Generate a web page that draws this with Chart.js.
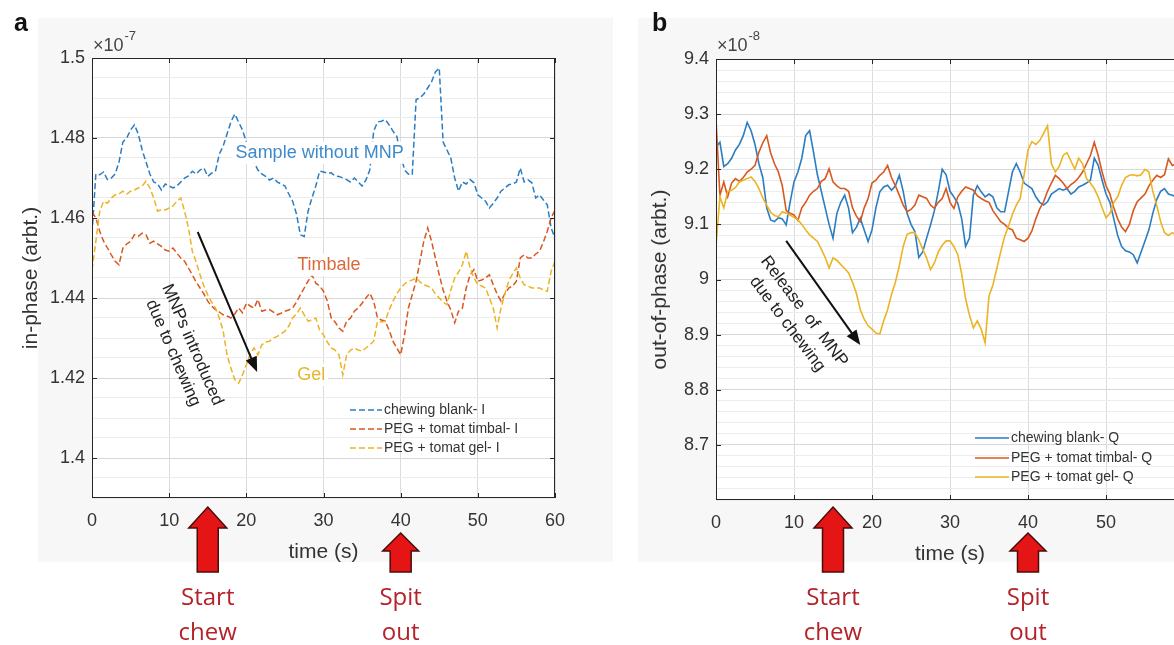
<!DOCTYPE html>
<html>
<head>
<meta charset="utf-8">
<script src="https://cdn.jsdelivr.net/npm/chart.js@4.4.1/dist/chart.umd.min.js"></script>
<style>
  html, body { margin: 0; padding: 0; background: #fff; overflow: hidden; }
  body { width: 1174px; height: 645px; position: relative; }
  .panel { position: absolute; top: 0; width: 620px; height: 645px; }
  #wrapA { left: 0; }
  #wrapB { left: 620px; }
</style>
</head>
<body>
<div class="panel" id="wrapA"><canvas id="chartA" width="620" height="645"></canvas></div>
<div class="panel" id="wrapB"><canvas id="chartB" width="620" height="645"></canvas></div>
<script>
const FONT = '"Liberation Sans", Arial, Helvetica, sans-serif';

// time axis, 0.5 s sampling
const timeS = Array.from({ length: 121 }, (_, i) => i * 0.5);
const xTicks = [0, 10, 20, 30, 40, 50, 60];
const yTicksA = [1.4, 1.42, 1.44, 1.46, 1.48, 1.5];
const yLabelsA = ['1.4', '1.42', '1.44', '1.46', '1.48', '1.5'];
const yTicksB = [8.7, 8.8, 8.9, 9, 9.1, 9.2, 9.3, 9.4];
const yLabelsB = ['8.7', '8.8', '8.9', '9', '9.1', '9.2', '9.3', '9.4'];
const seriesNamesA = ['chewing blank- I', 'PEG + tomat timbal- I', 'PEG + tomat gel- I'];
const seriesNamesB = ['chewing blank- Q', 'PEG + tomat timbal- Q', 'PEG + tomat gel- Q'];

// panel a: in-phase (x 1e-7)
const inphaseBlank = [
  1.456, 1.471, 1.4708, 1.4715, 1.4696, 1.470, 1.471, 1.474, 1.479, 1.480,
  1.482, 1.4833, 1.481, 1.477, 1.474, 1.471, 1.469, 1.4685, 1.467, 1.4685,
  1.468, 1.4675, 1.468, 1.469, 1.470, 1.4705, 1.4717, 1.471, 1.472, 1.4725,
  1.4704, 1.4712, 1.4717, 1.476, 1.478, 1.481, 1.484, 1.486, 1.484, 1.482,
  1.479, 1.476, 1.474, 1.472, 1.471, 1.4704, 1.4695, 1.470, 1.469, 1.4685,
  1.468, 1.466, 1.4642, 1.461, 1.4558, 1.4554, 1.4617, 1.465, 1.468, 1.4717,
  1.4715, 1.4712, 1.4713, 1.4705, 1.4704, 1.470, 1.4696, 1.469, 1.470, 1.469,
  1.468, 1.4695, 1.472, 1.4817, 1.484, 1.4842, 1.4846, 1.4833, 1.4817, 1.4804,
  1.476, 1.472, 1.471, 1.4708, 1.4896, 1.490, 1.491, 1.4925, 1.494, 1.4965,
  1.4975, 1.479, 1.477, 1.475, 1.470, 1.4667, 1.469, 1.4685, 1.4696, 1.4688,
  1.4658, 1.465, 1.4642, 1.4625, 1.4637, 1.465, 1.4667, 1.4675, 1.4683, 1.4685,
  1.469, 1.4725, 1.469, 1.4695, 1.4688, 1.465, 1.4658, 1.4645, 1.4633, 1.4575,
  1.455
];
const inphaseTimbale = [
  1.4615, 1.460, 1.4567, 1.4542, 1.4525, 1.4508, 1.4492, 1.4483, 1.4525, 1.4535,
  1.4542, 1.4558, 1.4554, 1.4562, 1.4558, 1.4537, 1.4542, 1.4535, 1.4529, 1.452,
  1.4517, 1.4525, 1.4512, 1.450, 1.4492, 1.4475, 1.4458, 1.444, 1.4425, 1.441,
  1.4392, 1.438, 1.4371, 1.4365, 1.4358, 1.4355, 1.435, 1.436, 1.4375, 1.4363,
  1.4387, 1.438, 1.4375, 1.4396, 1.4367, 1.437, 1.4371, 1.4365, 1.4358, 1.4362,
  1.4367, 1.437, 1.4375, 1.439, 1.4408, 1.4425, 1.4442, 1.4458, 1.4437, 1.443,
  1.4417, 1.4392, 1.435, 1.434, 1.4325, 1.4317, 1.4342, 1.435, 1.4367, 1.4375,
  1.4387, 1.440, 1.4412, 1.4392, 1.435, 1.4345, 1.4342, 1.432, 1.4292, 1.4275,
  1.4258, 1.4308, 1.4375, 1.4408, 1.4442, 1.4492, 1.4542, 1.4575, 1.4542, 1.450,
  1.4458, 1.442, 1.4392, 1.437, 1.4338, 1.4367, 1.4375, 1.4425, 1.4458, 1.4471,
  1.4442, 1.4445, 1.445, 1.4458, 1.4433, 1.441, 1.4392, 1.441, 1.4425, 1.443,
  1.4442, 1.450, 1.4508, 1.450, 1.450, 1.451, 1.4517, 1.454, 1.4567, 1.460,
  1.462
];
const inphaseGel = [
  1.447, 1.4542, 1.4617, 1.4642, 1.4637, 1.465, 1.4658, 1.466, 1.4667, 1.466,
  1.4667, 1.467, 1.4675, 1.468, 1.4692, 1.4675, 1.465, 1.4617, 1.4621, 1.462,
  1.4625, 1.463, 1.4642, 1.465, 1.4617, 1.4575, 1.4517, 1.449, 1.4458, 1.443,
  1.4408, 1.439, 1.4375, 1.435, 1.4317, 1.4258, 1.4225, 1.4196, 1.4187, 1.4208,
  1.4233, 1.426, 1.4275, 1.4258, 1.4283, 1.429, 1.4292, 1.430, 1.4304, 1.431,
  1.4317, 1.433, 1.435, 1.436, 1.4375, 1.4358, 1.4342, 1.4345, 1.435, 1.432,
  1.4308, 1.429, 1.4275, 1.427, 1.4258, 1.4208, 1.4258, 1.427, 1.4275, 1.427,
  1.4267, 1.4275, 1.4283, 1.4292, 1.4342, 1.434, 1.4342, 1.437, 1.4392, 1.441,
  1.4425, 1.4435, 1.4442, 1.4445, 1.445, 1.444, 1.4433, 1.443, 1.4425, 1.441,
  1.440, 1.439, 1.4383, 1.442, 1.445, 1.4465, 1.4483, 1.4517, 1.4475, 1.445,
  1.4433, 1.443, 1.4425, 1.440, 1.4375, 1.4325, 1.4375, 1.441, 1.4442, 1.446,
  1.4475, 1.445, 1.4433, 1.443, 1.4425, 1.4425, 1.4425, 1.442, 1.4417, 1.4467,
  1.4492
];

// panel b: out-of-phase (x 1e-8)
const quadBlank = [
  9.24, 9.249, 9.205, 9.21, 9.22, 9.235, 9.245, 9.261, 9.285, 9.27,
  9.245, 9.21, 9.185, 9.13, 9.108, 9.105, 9.112, 9.11, 9.099, 9.14,
  9.177, 9.195, 9.22, 9.261, 9.27, 9.231, 9.19, 9.16, 9.13, 9.1,
  9.075, 9.12, 9.14, 9.153, 9.129, 9.085, 9.095, 9.111, 9.09, 9.069,
  9.09, 9.13, 9.159, 9.168, 9.171, 9.162, 9.17, 9.189, 9.16, 9.12,
  9.1, 9.087, 9.04, 9.05, 9.075, 9.099, 9.125, 9.16, 9.2, 9.19,
  9.16, 9.15, 9.138, 9.11, 9.06, 9.075, 9.153, 9.17, 9.159, 9.15,
  9.155, 9.15, 9.13, 9.123, 9.123, 9.159, 9.195, 9.21, 9.195, 9.175,
  9.17, 9.165, 9.15, 9.14, 9.135, 9.141, 9.155, 9.16, 9.165, 9.162,
  9.165, 9.155, 9.16, 9.168, 9.171, 9.175, 9.18, 9.22, 9.207, 9.18,
  9.155, 9.14, 9.11, 9.08, 9.06, 9.052, 9.05, 9.045, 9.03, 9.05,
  9.07, 9.09, 9.12, 9.145, 9.16, 9.165, 9.155, 9.153, 9.15, 9.155,
  9.15
];
const quadTimbale = [
  9.29, 9.153, 9.177, 9.15, 9.175, 9.183, 9.178, 9.185, 9.195, 9.2,
  9.207, 9.231, 9.248, 9.261, 9.23, 9.21, 9.195, 9.17, 9.125, 9.12,
  9.117, 9.107, 9.13, 9.14, 9.153, 9.16, 9.165, 9.178, 9.183, 9.201,
  9.177, 9.17, 9.165, 9.165, 9.16, 9.13, 9.115, 9.105, 9.13, 9.147,
  9.175, 9.18, 9.189, 9.195, 9.207, 9.185, 9.17, 9.153, 9.135, 9.123,
  9.127, 9.135, 9.153, 9.15, 9.147, 9.135, 9.129, 9.14, 9.147, 9.165,
  9.14, 9.129, 9.15, 9.16, 9.168, 9.165, 9.162, 9.152, 9.147, 9.143,
  9.14, 9.125, 9.115, 9.105, 9.1, 9.093, 9.09, 9.075, 9.072, 9.069,
  9.075, 9.088, 9.11, 9.128, 9.141, 9.16, 9.175, 9.189, 9.183, 9.175,
  9.165, 9.172, 9.177, 9.185, 9.195, 9.21, 9.225, 9.249, 9.225, 9.195,
  9.17, 9.155, 9.13, 9.11, 9.095, 9.087, 9.1, 9.125, 9.141, 9.148,
  9.155, 9.17, 9.18, 9.189, 9.185, 9.19, 9.219, 9.207, 9.21, 9.215,
  9.22
];
const quadGel = [
  9.06, 9.15, 9.13, 9.16, 9.162, 9.167, 9.177, 9.18, 9.183, 9.186,
  9.178, 9.165, 9.148, 9.135, 9.122, 9.116, 9.114, 9.123, 9.12, 9.117,
  9.113, 9.108, 9.1, 9.09, 9.081, 9.075, 9.069, 9.055, 9.04, 9.021,
  9.039, 9.035, 9.027, 9.02, 9.012, 8.995, 8.975, 8.945, 8.928, 8.916,
  8.91, 8.903, 8.901, 8.925, 8.945, 8.973, 8.995, 9.025, 9.06, 9.082,
  9.085, 9.085, 9.072, 9.055, 9.039, 9.018, 9.03, 9.05, 9.062, 9.07,
  9.07, 9.06, 9.045, 9.01, 8.965, 8.935, 8.912, 8.925, 8.91, 8.885,
  8.97, 8.99, 9.02, 9.05, 9.078, 9.097, 9.118, 9.135, 9.147, 9.19,
  9.235, 9.25, 9.245, 9.252, 9.265, 9.279, 9.21, 9.195, 9.205, 9.225,
  9.23, 9.215, 9.2, 9.22, 9.21, 9.183, 9.175, 9.165, 9.15, 9.13,
  9.112, 9.12, 9.14, 9.15, 9.171, 9.185, 9.189, 9.19, 9.188, 9.19,
  9.2, 9.195, 9.16, 9.135, 9.105, 9.085, 9.08, 9.085, 9.08, 9.075,
  9.08
];

const BLUE = '#2a7dc2', ORANGE = '#d9581f', YELLOW = '#ecb424';

function minorTicks(lo, hi, step) {
  const out = [];
  const n = Math.round((hi - lo) / step);
  for (let i = 0; i <= n; i++) out.push(+(lo + i * step).toFixed(4));
  return out;
}
const yMinorA = minorTicks(1.39, 1.5, 0.005);
const yMinorB = minorTicks(8.6, 9.4, 0.02);

function majorIndex(v, list) {
  return list.findIndex(m => Math.abs(m - v) < 1e-7);
}
function pts(arr) {
  return arr.map((v, i) => ({ x: timeS[i], y: v }));
}

// ---- drawing helpers for the annotations ----
function blockArrow(ctx, cx, tip, base, bottom, hw, sw) {
  ctx.save();
  ctx.beginPath();
  ctx.moveTo(cx, tip);
  ctx.lineTo(cx + hw, base);
  ctx.lineTo(cx + sw, base);
  ctx.lineTo(cx + sw, bottom);
  ctx.lineTo(cx - sw, bottom);
  ctx.lineTo(cx - sw, base);
  ctx.lineTo(cx - hw, base);
  ctx.closePath();
  ctx.fillStyle = '#e51515';
  ctx.fill();
  ctx.strokeStyle = '#4a0d0d';
  ctx.lineWidth = 1.5;
  ctx.stroke();
  ctx.restore();
}
function lineArrow(ctx, x1, y1, x2, y2) {
  const a = Math.atan2(y2 - y1, x2 - x1);
  ctx.save();
  ctx.strokeStyle = '#111';
  ctx.fillStyle = '#111';
  ctx.lineWidth = 2;
  ctx.beginPath();
  ctx.moveTo(x1, y1);
  ctx.lineTo(x2 - 10 * Math.cos(a), y2 - 10 * Math.sin(a));
  ctx.stroke();
  ctx.beginPath();
  ctx.moveTo(x2, y2);
  ctx.lineTo(x2 - 15 * Math.cos(a) + 6 * Math.sin(a), y2 - 15 * Math.sin(a) - 6 * Math.cos(a));
  ctx.lineTo(x2 - 15 * Math.cos(a) - 6 * Math.sin(a), y2 - 15 * Math.sin(a) + 6 * Math.cos(a));
  ctx.closePath();
  ctx.fill();
  ctx.restore();
}
function rotText(ctx, lines, cx, cy, deg, size, gap) {
  ctx.save();
  ctx.translate(cx, cy);
  ctx.rotate(deg * Math.PI / 180);
  ctx.font = size + 'px ' + FONT;
  ctx.fillStyle = '#222';
  ctx.textAlign = 'center';
  ctx.textBaseline = 'middle';
  lines.forEach((s, i) => ctx.fillText(s, 0, i * gap));
  ctx.restore();
}
function plainText(ctx, s, x, y, font, color, align) {
  ctx.save();
  ctx.font = font;
  ctx.fillStyle = color;
  ctx.textAlign = align || 'center';
  ctx.textBaseline = 'middle';
  ctx.fillText(s, x, y);
  ctx.restore();
}
// text on a white box, like a MATLAB text object with a background colour
function boxedText(ctx, s, x, y, font, color) {
  ctx.save();
  ctx.font = font;
  const w = ctx.measureText(s).width;
  ctx.fillStyle = '#ffffff';
  ctx.fillRect(x - w / 2 - 3, y - 11, w + 6, 22);
  ctx.restore();
  plainText(ctx, s, x, y, font, color);
}

// decoration plugin; per-chart settings come from options.plugins.decor
const decor = {
  id: 'decor',
  beforeDraw(chart, args, o) {
    const { ctx, chartArea: ca } = chart;
    ctx.save();
    ctx.fillStyle = '#f7f7f7';
    ctx.fillRect(o.bg[0], o.bg[1], o.bg[2], o.bg[3]);
    ctx.fillStyle = '#ffffff';
    ctx.fillRect(ca.left, ca.top, ca.right - ca.left, ca.bottom - ca.top);
    ctx.restore();
  },
  afterDraw(chart, args, o) {
    const { ctx, chartArea: ca } = chart;
    const xs = chart.scales.x, ys = chart.scales.y;

    // in-plot annotations
    ctx.save();
    ctx.beginPath();
    ctx.rect(ca.left, ca.top, ca.right - ca.left, ca.bottom - ca.top);
    ctx.clip();
    o.labels.forEach(l => {
      boxedText(ctx, l.text, xs.getPixelForValue(l.t), ys.getPixelForValue(l.v), '18px ' + FONT, l.color);
    });
    const ar = o.arrow;
    lineArrow(ctx, xs.getPixelForValue(ar[0]), ys.getPixelForValue(ar[1]),
      xs.getPixelForValue(ar[2]), ys.getPixelForValue(ar[3]));
    const nt = o.note;
    rotText(ctx, nt.lines, xs.getPixelForValue(nt.t), ys.getPixelForValue(nt.v), nt.deg, 17, 21);

    // legend
    chart.data.datasets.forEach((ds, i) => {
      const y = o.legend.rows[i];
      ctx.save();
      ctx.strokeStyle = ds.borderColor;
      ctx.lineWidth = 1.5;
      ctx.setLineDash(ds.borderDash || []);
      ctx.beginPath();
      ctx.moveTo(o.legend.x1, y);
      ctx.lineTo(o.legend.x2, y);
      ctx.stroke();
      ctx.restore();
      plainText(ctx, ds.label, o.legend.x2 + 2, y, o.legend.size + 'px ' + FONT, '#333', 'left');
    });
    ctx.restore();

    // axes box with inward ticks
    ctx.save();
    ctx.strokeStyle = '#262626';
    ctx.lineWidth = 1;
    ctx.strokeRect(ca.left + 0.5, ca.top + 0.5, ca.right - ca.left - 1, ca.bottom - ca.top - 1);
    ctx.beginPath();
    xTicks.forEach(t => {
      const px = Math.round(xs.getPixelForValue(t)) + 0.5;
      ctx.moveTo(px, ca.bottom); ctx.lineTo(px, ca.bottom - 5);
      ctx.moveTo(px, ca.top); ctx.lineTo(px, ca.top + 5);
    });
    o.yMajor.forEach(v => {
      const py = Math.round(ys.getPixelForValue(v)) + 0.5;
      ctx.moveTo(ca.left, py); ctx.lineTo(ca.left + 5, py);
      ctx.moveTo(ca.right, py); ctx.lineTo(ca.right - 5, py);
    });
    ctx.stroke();
    ctx.restore();

    // panel letter and exponent
    plainText(ctx, o.letter, o.letterX, 24, 'bold 25px ' + FONT, '#111', 'left');
    plainText(ctx, '\u00d710', ca.left + 1, 46, '18px ' + FONT, '#444', 'left');
    ctx.save();
    ctx.font = '18px ' + FONT;
    const w10 = ctx.measureText('\u00d710').width;
    ctx.restore();
    plainText(ctx, o.exponent, ca.left + 2 + w10, 36, '13px ' + FONT, '#444', 'left');

    // red arrows under the time axis
    const c1 = xs.getPixelForValue(15), c2 = xs.getPixelForValue(40);
    blockArrow(ctx, c1, 507, 528, 572, 19, 10.5);
    blockArrow(ctx, c2, 533, 551, 572, 18, 10.5);
    const rf = '24px "Open Sans", Lato, sans-serif', rc = '#b4232a';
    plainText(ctx, 'Start', c1, 598, rf, rc);
    plainText(ctx, 'chew', c1, 633, rf, rc);
    plainText(ctx, 'Spit', c2, 598, rf, rc);
    plainText(ctx, 'out', c2, 633, rf, rc);
  }
};

function makeChart(id, cfg) {
  return new Chart(document.getElementById(id), {
    type: 'line',
    data: { datasets: cfg.datasets },
    options: {
      responsive: false,
      animation: false,
      events: [],
      layout: { padding: cfg.padding },
      elements: { point: { radius: 0 }, line: { tension: 0 } },
      scales: {
        x: {
          type: 'linear', min: 0, max: 60,
          afterBuildTicks: s => { s.ticks = xTicks.map(v => ({ value: v })); },
          afterFit: s => { s.height = 70; },
          ticks: { autoSkip: false, maxRotation: 0, padding: 12, color: '#333',
            font: { family: FONT, size: 18 }, callback: v => String(v) },
          grid: { drawTicks: false, color: '#dcdcdc' },
          border: { display: false },
          title: { display: true, text: 'time (s)', color: '#333',
            font: { family: FONT, size: 21 }, padding: { top: 0, bottom: 3 } }
        },
        y: {
          min: cfg.yMin, max: cfg.yMax,
          afterBuildTicks: s => { s.ticks = cfg.yMinor.map(v => ({ value: v })); },
          afterFit: s => { s.width = cfg.yWidth; },
          ticks: { autoSkip: false, padding: 7, color: '#333',
            font: { family: FONT, size: 18 },
            callback: v => { const k = majorIndex(v, cfg.yMajor); return k >= 0 ? cfg.yLabels[k] : ''; } },
          grid: { drawTicks: false,
            color: c => majorIndex(c.tick.value, cfg.yMajor) >= 0 ? '#d8d8d8' : '#ececec' },
          border: { display: false },
          title: { display: true, text: cfg.yTitle, color: '#333',
            font: { family: FONT, size: 21 }, padding: { top: cfg.titlePad, bottom: 0 } }
        }
      },
      plugins: {
        legend: { display: false },
        tooltip: { enabled: false },
        decor: cfg.decor
      }
    },
    plugins: [decor]
  });
}

const chartA = makeChart('chartA', {
  padding: { left: 0, top: 58, right: 65, bottom: 77 },
  yMin: 1.39, yMax: 1.5, yMinor: yMinorA, yMajor: yTicksA, yLabels: yLabelsA,
  yWidth: 92, titlePad: 19, yTitle: 'in-phase (arbt.)',
  datasets: [
    { label: seriesNamesA[0], data: pts(inphaseBlank), borderColor: BLUE, borderWidth: 1.5, borderDash: [6, 3], order: 2 },
    { label: seriesNamesA[1], data: pts(inphaseTimbale), borderColor: ORANGE, borderWidth: 1.5, borderDash: [6, 3], order: 1 },
    { label: seriesNamesA[2], data: pts(inphaseGel), borderColor: YELLOW, borderWidth: 1.5, borderDash: [6, 3], order: 0 }
  ],
  decor: {
    bg: [38, 18, 575, 544],
    letter: 'a', letterX: 14, exponent: '-7', yMajor: yTicksA,
    labels: [
      { text: 'Sample without MNP', t: 29.5, v: 1.4763, color: '#3d8acb' },
      { text: 'Timbale', t: 30.7, v: 1.4483, color: '#d96a3a' },
      { text: 'Gel', t: 28.4, v: 1.4208, color: '#e6b52e' }
    ],
    arrow: [13.7, 1.4565, 21.4, 1.4215],
    note: { lines: ['MNPs introduced', 'due to chewing'], t: 13.0, v: 1.4283, deg: 66.5 },
    legend: { x1: 350, x2: 382, rows: [410, 429, 448], size: 14 }
  }
});

const chartB = makeChart('chartB', {
  padding: { left: 0, top: 59, right: 56, bottom: 75 },
  yMin: 8.6, yMax: 9.4, yMinor: yMinorB, yMajor: yTicksB, yLabels: yLabelsB,
  yWidth: 96, titlePad: 28, yTitle: 'out-of-phase (arbt.)',
  datasets: [
    { label: seriesNamesB[0], data: pts(quadBlank), borderColor: BLUE, borderWidth: 1.6, order: 2 },
    { label: seriesNamesB[1], data: pts(quadTimbale), borderColor: ORANGE, borderWidth: 1.6, order: 1 },
    { label: seriesNamesB[2], data: pts(quadGel), borderColor: YELLOW, borderWidth: 1.6, order: 0 }
  ],
  decor: {
    bg: [18, 18, 602, 544],
    letter: 'b', letterX: 32, exponent: '-8', yMajor: yTicksB,
    labels: [],
    arrow: [9.0, 9.070, 18.5, 8.881],
    note: { lines: ['Release  of  MNP', 'due to chewing'], t: 11.3, v: 8.942, deg: 53 },
    legend: { x1: 355, x2: 389, rows: [438, 458, 477], size: 14 }
  }
});
</script>
</body>
</html>
